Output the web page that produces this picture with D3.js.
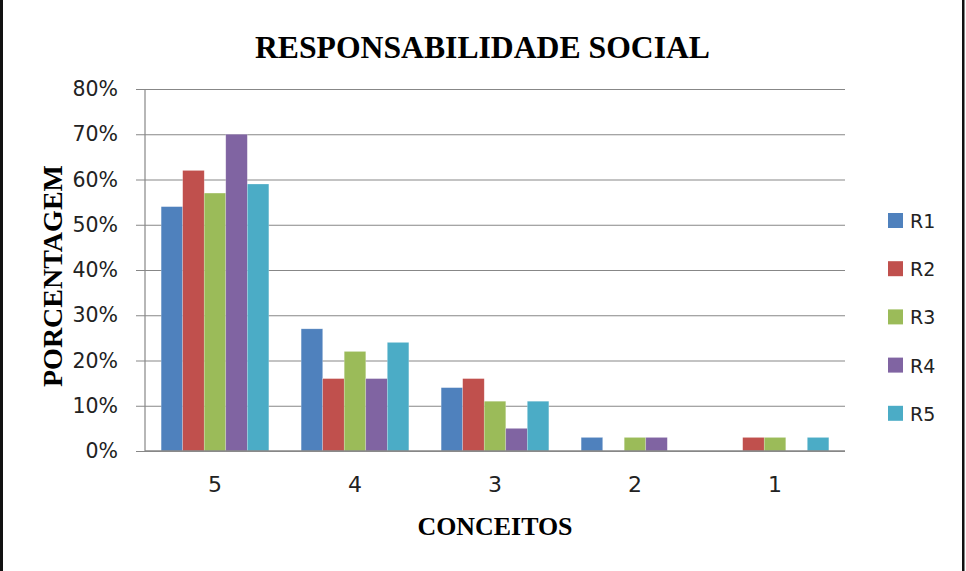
<!DOCTYPE html>
<html>
<head>
<meta charset="utf-8">
<script src="https://cdn.jsdelivr.net/npm/d3@7"></script>
<style>
  html, body { margin: 0; padding: 0; background: #fff; }
  svg { display: block; }
</style>
</head>
<body>
<svg id="chart" width="966" height="571"></svg>
<script>
const categories = ["5", "4", "3", "2", "1"];
const seriesNames = ["R1", "R2", "R3", "R4", "R5"];
const R1 = [0.54, 0.27, 0.14, 0.03, 0.00];
const R2 = [0.62, 0.16, 0.16, 0.00, 0.03];
const R3 = [0.57, 0.22, 0.11, 0.03, 0.03];
const R4 = [0.70, 0.16, 0.05, 0.03, 0.00];
const R5 = [0.59, 0.24, 0.11, 0.00, 0.03];
const yTicks = [0, 0.1, 0.2, 0.3, 0.4, 0.5, 0.6, 0.7, 0.8];
const colors = ["#4F81BD", "#C0504D", "#9BBB59", "#8064A2", "#4BACC6"];
const chartTitle = "RESPONSABILIDADE SOCIAL";
const xTitle = "CONCEITOS";
const yTitle = "PORCENTAGEM";

const seriesValues = [R1, R2, R3, R4, R5];
const svg = d3.select("#chart");

// frame borders (left and right)
svg.append("rect").attr("x", 0).attr("y", 0).attr("width", 3).attr("height", 571).attr("fill", "#111");
svg.append("rect").attr("x", 962).attr("y", 0).attr("width", 2.5).attr("height", 571).attr("fill", "#111");

const pLeft = 145, pRight = 845, pTop = 89, pBottom = 451;

const x = d3.scaleBand().domain(categories).range([pLeft, pRight]).paddingInner(0.2308).paddingOuter(0.1154);
const xs = d3.scaleBand().domain(seriesNames).range([0, x.bandwidth()]);
const y = d3.scaleLinear().domain([0, 0.8]).range([pBottom, pTop]);

// gridlines + y ticks
const yAxis = d3.axisLeft(y).tickValues(yTicks).tickFormat(d3.format(".0%")).tickSize(-(pRight - pLeft)).tickPadding(27);
const gy = svg.append("g").attr("transform", `translate(${pLeft},0)`).call(yAxis);
gy.select(".domain").remove();
gy.selectAll(".tick line").attr("stroke", "#878787").attr("stroke-width", 1.2).attr("x1", -9);
gy.selectAll(".tick text")
  .attr("font-family", "'DejaVu Sans', sans-serif")
  .attr("font-size", 20.5)
  .attr("fill", "#222");

// y axis line
svg.append("line").attr("x1", pLeft).attr("x2", pLeft).attr("y1", pTop).attr("y2", pBottom)
  .attr("stroke", "#878787").attr("stroke-width", 1.2);

// bars
const groups = svg.append("g").selectAll("g").data(seriesNames).join("g")
  .attr("fill", (d, i) => colors[i]);
groups.selectAll("rect")
  .data((s, i) => categories.map((c, j) => ({ s, c, v: seriesValues[i][j] })))
  .join("rect")
  .attr("x", d => x(d.c) + xs(d.s))
  .attr("width", xs.bandwidth())
  .attr("y", d => y(d.v))
  .attr("height", d => y(0) - y(d.v))
  .attr("stroke", "rgba(255,255,255,0.35)")
  .attr("stroke-width", 0.6);

// x axis line
svg.append("line").attr("x1", pLeft).attr("x2", pRight).attr("y1", pBottom).attr("y2", pBottom)
  .attr("stroke", "#878787").attr("stroke-width", 1.5);

// x labels
const xAxis = d3.axisBottom(x).tickSize(0).tickPadding(25);
const gx = svg.append("g").attr("transform", `translate(0,${pBottom})`).call(xAxis);
gx.select(".domain").remove();
gx.selectAll(".tick text")
  .attr("font-family", "'DejaVu Sans', sans-serif")
  .attr("font-size", 22)
  .attr("fill", "#222");

// title
svg.append("text").attr("x", 482.5).attr("y", 57.5).attr("text-anchor", "middle")
  .attr("font-family", "'Liberation Serif', 'Times New Roman', serif")
  .attr("font-weight", "bold").attr("font-size", 31.5)
  .attr("textLength", 455).attr("lengthAdjust", "spacingAndGlyphs")
  .text(chartTitle);

// x title
svg.append("text").attr("x", 495).attr("y", 535).attr("text-anchor", "middle")
  .attr("font-family", "'Liberation Serif', 'Times New Roman', serif")
  .attr("font-weight", "bold").attr("font-size", 25)
  .attr("textLength", 155).attr("lengthAdjust", "spacingAndGlyphs")
  .text(xTitle);

// y title
svg.append("text").attr("transform", "translate(62,276) rotate(-90)").attr("text-anchor", "middle")
  .attr("font-family", "'Liberation Serif', 'Times New Roman', serif")
  .attr("font-weight", "bold").attr("font-size", 27)
  .attr("textLength", 222).attr("lengthAdjust", "spacingAndGlyphs")
  .text(yTitle);

// legend
const legend = svg.append("g").selectAll("g").data(seriesNames).join("g")
  .attr("transform", (d, i) => `translate(888,${213 + i * 48.2})`);
legend.append("rect").attr("width", 15).attr("height", 15).attr("fill", (d, i) => colors[i]);
legend.append("text").attr("x", 22).attr("y", 15)
  .attr("font-family", "'DejaVu Sans', sans-serif").attr("font-size", 19).attr("fill", "#222")
  .text(d => d);
</script>
</body>
</html>
